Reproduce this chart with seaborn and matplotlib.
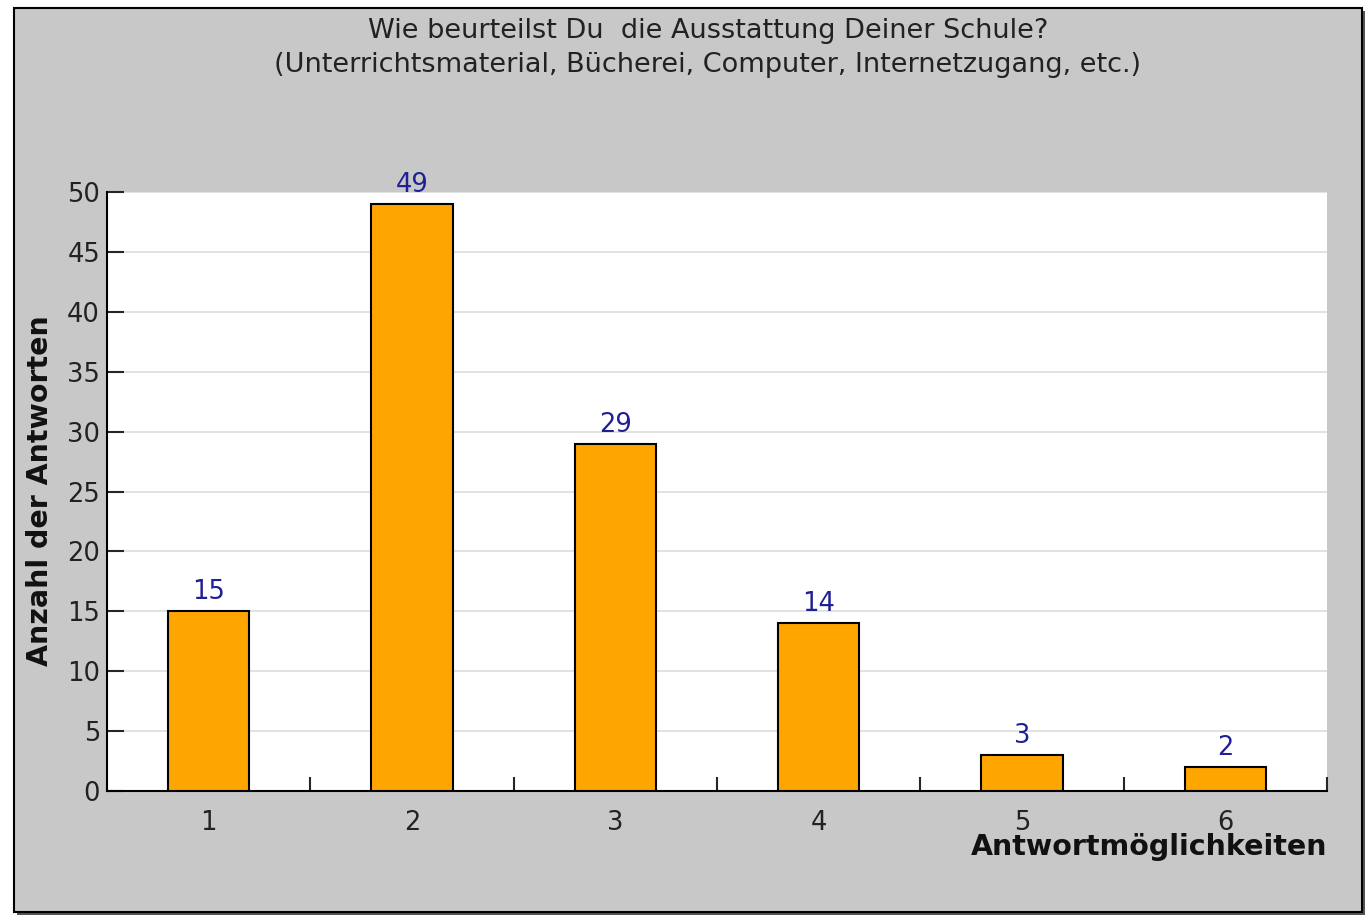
import matplotlib
matplotlib.use("Agg")
import matplotlib.pyplot as plt
from matplotlib.patches import Rectangle
from matplotlib.ticker import FixedLocator
import seaborn as sns

# Survey answers per option
options = ["1", "2", "3", "4", "5", "6"]
counts = [15, 49, 29, 14, 3, 2]

title = "Wie beurteilst Du  die Ausstattung Deiner Schule?\n(Unterrichtsmaterial, Bücherei, Computer, Internetzugang, etc.)"

sns.set_style("white")
plt.rcParams["font.family"] = ["DejaVu Sans"]

W, H = 1369, 919
fig = plt.figure(figsize=(W / 100, H / 100), dpi=100, facecolor="white")

# grey panel with black frame and shadow
fig.patches.append(Rectangle((17 / W, 1 - 915 / H), 1348 / W, 904 / H, transform=fig.transFigure,
                             facecolor="#555555", edgecolor="none", zorder=-3))
fig.patches.append(Rectangle((14 / W, 1 - 912 / H), 1348 / W, 904 / H, transform=fig.transFigure,
                             facecolor="#c8c8c8", edgecolor="black", linewidth=1.5, zorder=-2))

ax = fig.add_axes([107 / W, 1 - 791 / H, 1220 / W, 599 / H])
ax.set_facecolor("white")

sns.barplot(x=options, y=counts, color="#ffa500", width=0.4, edgecolor="black",
            linewidth=1.5, saturation=1, ax=ax, zorder=3)

for i, v in enumerate(counts):
    ax.text(i, v + 0.5, str(v), ha="center", va="bottom", color="#1f1f96", fontsize=18.5, zorder=4)

ax.set_xlim(-0.5, 5.5)
ax.set_ylim(0, 50)
ax.set_yticks(range(0, 51, 5))
ax.yaxis.grid(True, color="#dddddd", linewidth=1.2, zorder=0)
ax.tick_params(axis="y", direction="in", length=12, width=1.5, labelsize=18.5, pad=5,
               left=True, labelcolor="#222222")
ax.tick_params(axis="x", which="major", length=0, labelsize=18.5, pad=14, labelcolor="#222222")
ax.xaxis.set_minor_locator(FixedLocator([0.5, 1.5, 2.5, 3.5, 4.5, 5.5]))
ax.tick_params(axis="x", which="minor", direction="in", length=10, width=1.5, bottom=True)
for s in ["top", "right"]:
    ax.spines[s].set_visible(False)
for s in ["left", "bottom"]:
    ax.spines[s].set_linewidth(1.5)
    ax.spines[s].set_color("black")

ax.set_xlabel("")
ax.set_ylabel("")
fig.text(1327 / W, 1 - 847 / H, "Antwortmöglichkeiten", ha="right", va="center",
         fontsize=20.5, fontweight="bold", color="#111111")
fig.text(40 / W, 1 - 491 / H, "Anzahl der Antworten", ha="center", va="center",
         rotation=90, fontsize=20.5, fontweight="bold", color="#111111")
fig.text(708 / W, 1 - 48 / H, title, ha="center", va="center", fontsize=19.5,
         linespacing=1.45, color="#222222")

fig.savefig("out.png", dpi=100, facecolor="white")
